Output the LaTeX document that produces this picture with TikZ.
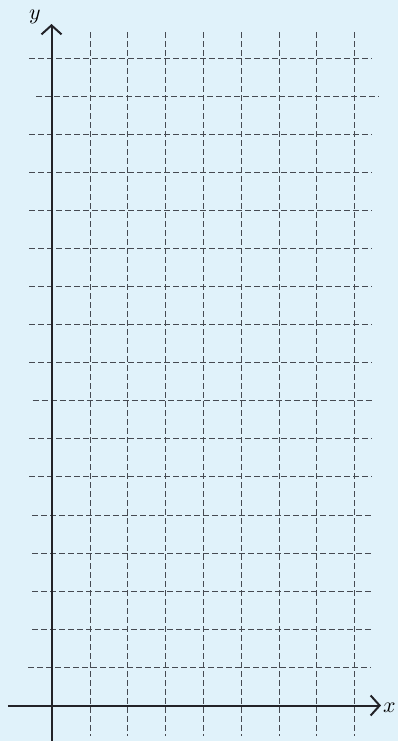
\documentclass[tikz,border=0pt]{standalone}
\usetikzlibrary{arrows.meta}
\definecolor{bgblue}{RGB}{224,242,250}
\definecolor{axisc}{RGB}{35,35,40}
\definecolor{gridc}{RGB}{70,75,82}
\begin{document}
\begin{tikzpicture}[x=0.5pt,y=-0.5pt,
  gridline/.style={gridc,line width=0.65pt,dash pattern=on 3pt off 1.5pt},
  axisline/.style={axisc,line width=1pt,-{Straight Barb[length=4.5pt,width=10pt]}},
  axislabel/.style={font=\fontsize{11}{13}\selectfont,inner sep=0pt}]
\fill[bgblue] (0,0) rectangle (398,741);
\useasboundingbox (0,0) rectangle (398,741);
% vertical grid lines
\foreach \x in {90.5,127.5,165.5,203.5,241.5,279.5,316.5,354.5}
  \draw[gridline] (\x,32) -- (\x,736);
% horizontal grid lines
\foreach \y/\a/\b in {58.5/29/371.5, 96.5/36/378.5, 134.5/29/371.5, 172.5/29/371.5,
  210.5/29/371.5, 248.5/29/371.5, 286.5/29/371.5, 324.5/29/371.5, 362.5/29/371.5,
  400.5/32.5/374, 438.5/29/371.5, 476.5/29/371.5, 515.5/32/374, 553.5/32/374,
  591.5/32/374, 629.5/32/374, 667.5/28/370.5}
  \draw[gridline] (\a,\y) -- (\b,\y);
% axes
\coordinate (xs) at (8,705.5);
\coordinate (xe) at (381,705.5);
\coordinate (ys) at (51.5,741);
\coordinate (ye) at (51.5,24);
\draw[axisline] (xs) -- (xe);
\draw[axisline] (ys) -- (ye);
\node[axislabel] (ylab) at (35,17) {$y$};
\node[axislabel] (xlab) at (389.5,708) {$x$};
\end{tikzpicture}
\end{document}
